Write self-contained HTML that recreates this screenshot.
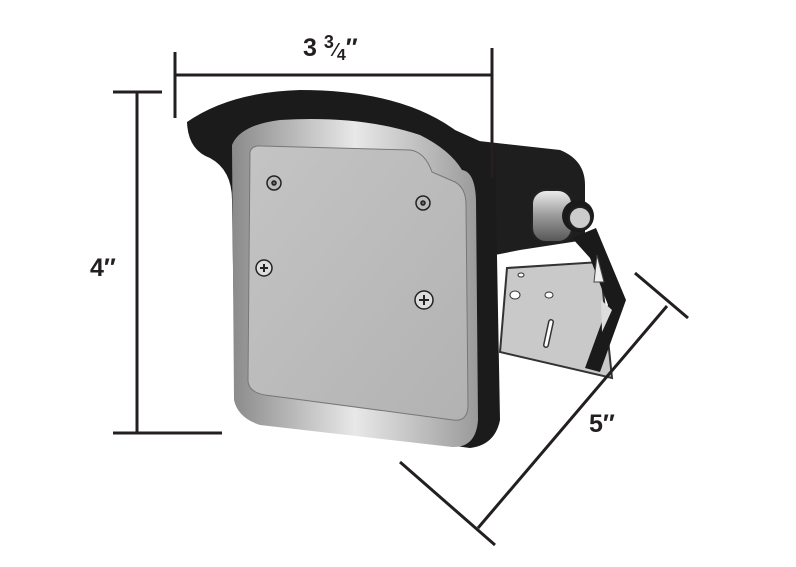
<!DOCTYPE html>
<html><head><style>
html,body{margin:0;padding:0;background:#fff;width:796px;height:567px;overflow:hidden}
svg{display:block}
</style></head><body>
<svg width="796" height="567" viewBox="0 0 796 567" xmlns="http://www.w3.org/2000/svg">
<defs>
<linearGradient id="plate" x1="0" y1="0" x2="1" y2="1">
<stop offset="0" stop-color="#c4c4c4"/><stop offset="1" stop-color="#b2b2b2"/></linearGradient>
<linearGradient id="rim" x1="0" y1="0" x2="1" y2="0">
<stop offset="0" stop-color="#8a8a8a"/><stop offset="0.5" stop-color="#e8e8e8"/><stop offset="1" stop-color="#9a9a9a"/></linearGradient>
<linearGradient id="knob" x1="0" y1="0" x2="0" y2="1">
<stop offset="0" stop-color="#eee"/><stop offset="0.5" stop-color="#999"/><stop offset="1" stop-color="#555"/></linearGradient>
</defs>
<!-- bracket plate -->
<polygon points="507,268 600,262 612,378 500,352" fill="#c9c9c9" stroke="#333" stroke-width="2"/>
<ellipse cx="515" cy="295" rx="5" ry="4" fill="#fff" stroke="#333"/>
<ellipse cx="549" cy="295" rx="4" ry="3" fill="#fff" stroke="#333"/>
<ellipse cx="521" cy="275" rx="3" ry="2" fill="#fff" stroke="#333"/>
<path d="M551 322 L546 345" stroke="#333" stroke-width="6" stroke-linecap="round"/>
<path d="M551 322 L546 345" stroke="#fff" stroke-width="3" stroke-linecap="round"/>
<!-- back body -->
<path d="M470 140 L560 150 Q585 160 585 185 L585 240 L520 250 L495 255 L480 240 Z" fill="#1e1e1e"/>
<!-- black arm -->
<path d="M572 238 L596 228 L626 300 L600 372 L585 368 L608 305 L590 258 Z" fill="#1a1a1a"/>
<path d="M597 255 L604 282 L594 282 Z" fill="#eee" stroke="#444"/>
<polygon points="601,300 612,310 602,332" fill="#ddd"/>
<!-- knob -->
<rect x="532" y="190" width="40" height="52" rx="14" fill="url(#knob)" stroke="#222" stroke-width="2"/>
<circle cx="578" cy="216" r="16" fill="#1a1a1a"/>
<circle cx="580" cy="218" r="11" fill="#ccc" stroke="#222" stroke-width="2"/>
<!-- main body -->
<path d="M187 122 Q230 92 300 90 Q400 90 455 130 L495 148 L500 420 Q495 445 470 448 L260 420 Q240 415 235 400 L232 200 Q232 170 210 158 Q188 150 187 122 Z" fill="#1b1b1b"/>
<!-- silver rim -->
<path d="M232 145 Q240 125 280 120 Q360 115 420 135 Q450 150 462 170 Q475 172 476 200 L478 420 Q476 448 452 447 L260 425 Q238 418 234 400 Z" fill="url(#rim)"/>
<!-- plate -->
<path d="M250 152 Q252 145 262 146 L410 150 Q425 152 432 172 L455 182 Q466 188 466 205 L468 405 Q468 422 453 420 L265 395 Q248 392 248 380 Z" fill="url(#plate)" stroke="#777" stroke-width="1"/>
<!-- screws -->
<g stroke="#222" stroke-width="1.5">
<circle cx="274" cy="183" r="7" fill="#bbb"/><circle cx="274" cy="183" r="2" fill="#666"/>
<circle cx="423" cy="203" r="7" fill="#bbb"/><circle cx="423" cy="203" r="2" fill="#666"/>
<circle cx="264" cy="268" r="8" fill="#ddd"/>
<circle cx="424" cy="300" r="9" fill="#ddd"/>
</g>
<g stroke="#222" stroke-width="2">
<path d="M260 268h8M264 264v8"/><path d="M419 300h10M424 295v10"/>
</g>
<!-- dimension lines -->
<g stroke="#231f20" stroke-width="3" fill="none">
<path d="M175 75 H492"/><path d="M175 52 V118"/><path d="M492 48 V178"/>
<path d="M137 92 V433"/><path d="M113 92 H162"/><path d="M113 433 H222"/>
<path d="M478 528 L667 306"/><path d="M400 462 L495 545"/><path d="M635 273 L688 318"/>
</g>
<g font-family="'Liberation Sans',sans-serif" font-weight="bold" fill="#231f20">
<text x="303" y="56" font-size="25">3 <tspan font-size="18" dy="-8">3</tspan><tspan font-size="18" dy="8">⁄</tspan><tspan font-size="16" dy="4">4</tspan><tspan dy="-4">″</tspan></text>
<text x="90" y="276" font-size="25">4″</text>
<text x="589" y="432" font-size="25">5″</text>
</g>
</svg>
</body></html>
